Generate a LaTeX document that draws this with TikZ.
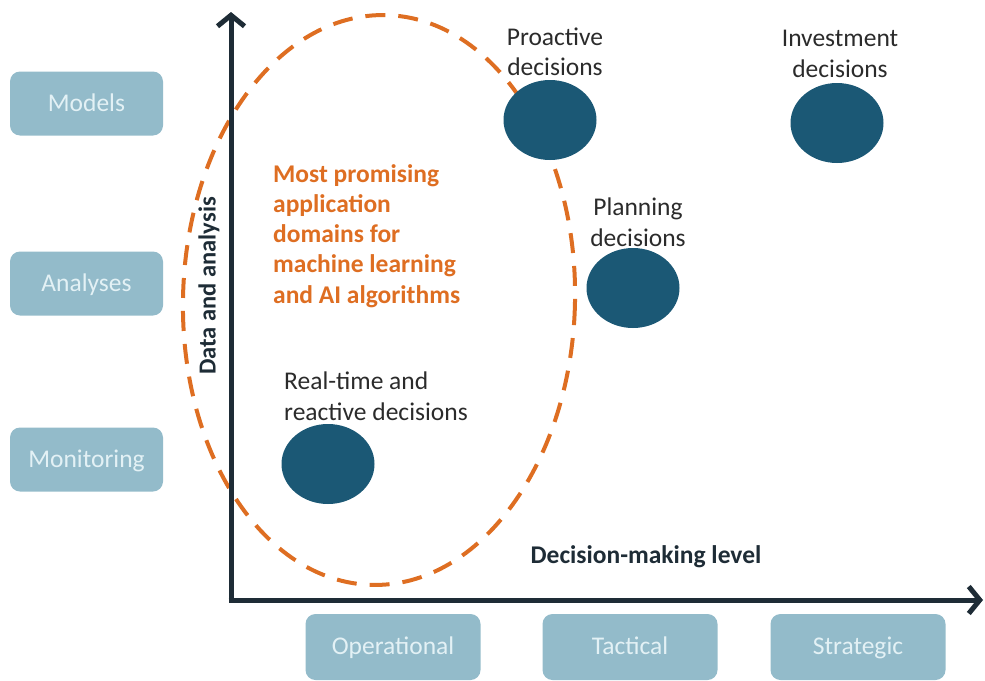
\documentclass[tikz,border=0pt]{standalone}
\usepackage{fontspec}
\setmainfont{Carlito}
\usetikzlibrary{arrows.meta,shapes.geometric}
\definecolor{boxfill}{HTML}{93BBCA}
\definecolor{boxtext}{HTML}{E3F1F5}
\definecolor{dot}{HTML}{1B5875}
\definecolor{axis}{HTML}{1E2C36}
\definecolor{orng}{HTML}{DE6E22}
\definecolor{labtext}{HTML}{2B2B2B}
\begin{document}
\begin{tikzpicture}[x=1pt,y=-1pt,
  txt/.style={font=\fontsize{25.5}{30.5}\selectfont, inner sep=0pt},
  catbox/.style={txt, fill=boxfill, text=boxtext, rounded corners=10pt, minimum width=#1, minimum height=64pt, text depth=0.2em},
  catbox/.default=153pt,
  dec/.style={ellipse, fill=dot, minimum width=93pt, minimum height=80pt, inner sep=0pt},
  declab/.style={txt, text=labtext, align=center},
  ax/.style={draw=axis, line width=5pt, -{Straight Barb[length=11pt,width=27pt]}},
]
\useasboundingbox (0,0) rectangle (985,680);
% dashed region
\draw[orng, line width=4pt, dash pattern=on 20pt off 13pt, rotate around={-1.5:(379,300)}] (379,300) ellipse [x radius=196, y radius=285];
% axes
\coordinate (o) at (231,600);
\coordinate (ytip) at (231,12);
\coordinate (xtip) at (983,600);
\draw[ax] (231,602.5) -- (ytip);
\draw[ax] (228.5,600) -- (xtip);
% left boxes
\node[catbox] (models) at (86.5,103.5) {Models};
\node[catbox] (analyses) at (86.5,283.5) {Analyses};
\node[catbox] (monitoring) at (86.5,459.5) {Monitoring};
% bottom boxes
\node[catbox=175pt, minimum height=66pt] (operational) at (393,647) {Operational};
\node[catbox=175pt, minimum height=66pt] (tactical) at (630,647) {Tactical};
\node[catbox=175pt, minimum height=66pt] (strategic) at (858,647) {Strategic};
% decisions
\node[dec] (proactive) at (550,120) {};
\node[dec] (investment) at (837,123) {};
\node[dec] (planning) at (633,288) {};
\node[dec] (realtime) at (328,464) {};
\node[declab] (proactivel) at (555,52) {Proactive\\decisions};
\node[declab] (investmentl) at (840,54) {Investment\\decisions};
\node[declab] (planningl) at (638,222) {Planning\\decisions};
\node[declab, align=left, anchor=west] (realtimel) at (284,396) {Real-time and\\reactive decisions};
% orange text
\node[txt, text=orng, align=left, anchor=north west, font=\fontsize{25.5}{30.3}\selectfont\bfseries] (promising) at (273,164) {Most promising\\application\\domains for\\machine learning\\and AI algorithms};
% axis labels
\node[txt, text=axis, font=\fontsize{25.5}{30}\selectfont\bfseries] (xlab) at (646,557) {Decision-making level};
\node[txt, text=axis, rotate=90, font=\fontsize{24.5}{30}\selectfont\bfseries] (ylab) at (209,286) {Data and analysis};
\end{tikzpicture}
\end{document}
